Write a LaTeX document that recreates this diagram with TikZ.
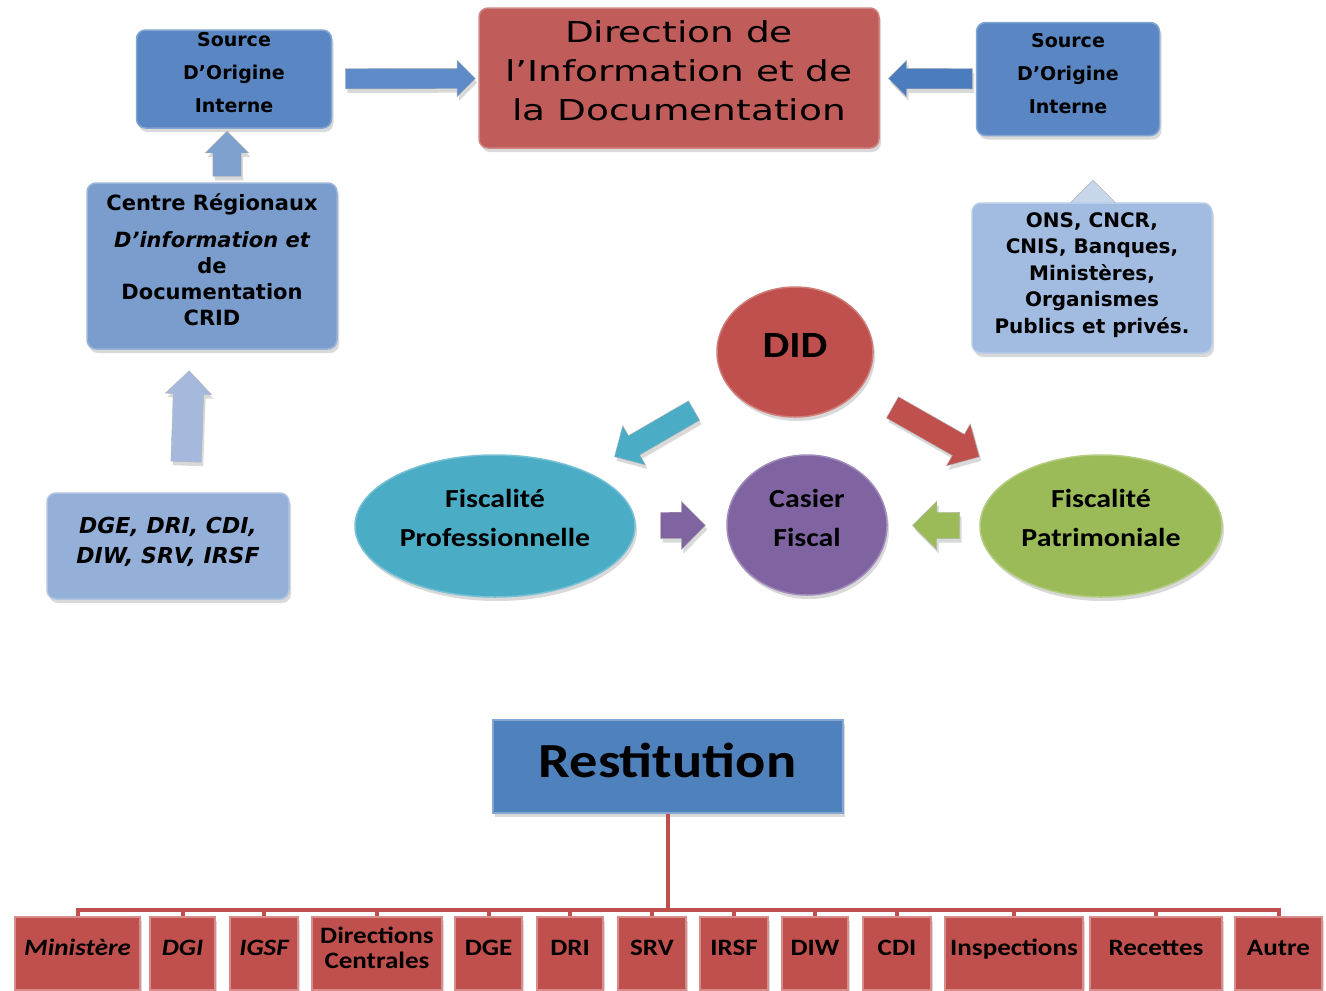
\documentclass[tikz,border=0pt]{standalone}
\usepackage{fontspec}
\usetikzlibrary{shapes.geometric,shapes.arrows,shadows,calc,backgrounds}
\newfontfamily\vfont{DejaVu Sans}
\newfontfamily\dirfont[FakeStretch=1.3]{DejaVu Sans}
\newfontfamily\cfont[FakeStretch=1.15]{Carlito}
\definecolor{srcblue}{RGB}{90,135,195}
\definecolor{dirred}{RGB}{192,92,90}
\definecolor{cridblue}{RGB}{122,157,205}
\definecolor{dgeblue}{RGB}{148,176,217}
\definecolor{onsblue}{RGB}{162,187,225}
\definecolor{arrA}{RGB}{95,140,200}
\definecolor{arrB}{RGB}{75,125,190}
\definecolor{arrC}{RGB}{125,160,205}
\definecolor{arrD}{RGB}{165,185,220}
\definecolor{arrE}{RGB}{200,214,235}
\definecolor{didred}{RGB}{192,80,77}
\definecolor{casierpurple}{RGB}{128,100,162}
\definecolor{fpteal}{RGB}{75,172,198}
\definecolor{patgreen}{RGB}{155,187,89}
\definecolor{restblue}{RGB}{79,129,189}
\definecolor{botred}{RGB}{192,80,77}
\begin{document}
\begin{tikzpicture}[x=1pt,y=-1pt,
  shadowed/.style={drop shadow={opacity=0.3,shadow xshift=2pt,shadow yshift=-4pt}},
  sbox/.style={rectangle, rounded corners=9pt, fill=#1, draw=#1!75!white, line width=1.5pt,
    inner sep=0pt, align=center, shadowed},
  sell/.style={ellipse, fill=#1, draw=#1!75!white, line width=1.5pt, inner sep=0pt,
    align=center, shadowed, font=\cfont\bfseries\fontsize{26}{39}\selectfont},
  botbox/.style={rectangle, fill=botred, draw=botred!65!white, line width=2pt, inner sep=0pt,
    minimum height=73, align=center, text depth=12pt, shadowed,
    font=\cfont\bfseries\fontsize{23.5}{25}\selectfont},
  barrow/.style n args={4}{single arrow, sloped, allow upside down, inner xsep=0pt,
    inner ysep=#4, minimum height=#1, minimum width=#2, single arrow head extend=#3,
    draw=white!70!black, line width=0.4pt, shadowed},
  busline/.style={draw=botred, line width=4pt}
]
\useasboundingbox (0,0) rectangle (1326,991);

% upper left / top boxes
\node[sbox=srcblue, minimum width=195, minimum height=98, text depth=13pt,
  font=\vfont\bfseries\fontsize{19}{33}\selectfont] (src1) at (234,79)
  {Source\\D’Origine\\Interne};
\node[sbox=dirred, minimum width=400, minimum height=140, text depth=14pt,
  font=\dirfont\fontsize{28.8}{39}\selectfont] (dir) at (679,78)
  {Direction de\\l’Information et de\\la Documentation};
\node[sbox=srcblue, minimum width=183, minimum height=113, text depth=12pt,
  font=\vfont\bfseries\fontsize{19}{33}\selectfont] (src2) at (1068,79)
  {Source\\D’Origine\\Interne};
\node[sbox=cridblue, minimum width=250, minimum height=166, text depth=13pt,
  font=\vfont\bfseries\fontsize{21}{26}\selectfont] (crid) at (212,266)
  {Centre Régionaux\\[11pt]\itshape D’information et\\de\\Documentation\\CRID};
\node[sbox=dgeblue, minimum width=242, minimum height=106, text depth=11pt,
  font=\vfont\bfseries\itshape\fontsize{22}{30}\selectfont] (dge) at (168,546)
  {DGE, DRI, CDI,\\DIW, SRV, IRSF};
\node[sbox=onsblue, minimum width=240, minimum height=150, text depth=10pt,
  font=\vfont\bfseries\fontsize{20}{26.5}\selectfont] (ons) at (1092,278)
  {ONS, CNCR,\\CNIS, Banques,\\Ministères,\\Organismes\\Publics et privés.};

% ellipses
\node[sell=didred, minimum width=156, minimum height=130, text depth=14pt,
  font=\cfont\bfseries\fontsize{37}{40}\selectfont] (did) at (795,352) {DID};
\node[sell=casierpurple, minimum width=160, minimum height=140, text depth=15pt] (casier) at (807,525)
  {Casier\\Fiscal};
\node[sell=fpteal, minimum width=280, minimum height=142, text depth=17pt] (fp) at (495,526)
  {Fiscalité\\Professionnelle};
\node[sell=patgreen, minimum width=242, minimum height=142, text depth=17pt] (fpat) at (1101,526)
  {Fiscalité\\Patrimoniale};

% block arrows: length, head width, head extend, half shaft width
\path (src1) -- node[barrow={130}{36}{8}{10}, fill=arrA] (a1) {} (dir);
\path (src2) -- node[pos=0.42, barrow={84}{36}{8}{10}, fill=arrB] (a2) {} (dir);
\path ($(src1.south |- crid.north)+(-7,0)$) -- node[pos=0.4, barrow={45}{43}{7.5}{14}, fill=arrC] (a3) {}
  ($(src1.south)+(-7,0)$);
\path ($(dge.north)+(17,0)$) -- node[pos=0.48, barrow={91}{46}{8}{15}, fill=arrD] (a4) {}
  ($(crid.south)+(-22,0)$);
\begin{scope}[on background layer]
\path ($(ons.north)+(1,30)$) -- node[pos=0.215, barrow={50}{45}{10}{12.5}, fill=arrE] (a5) {}
  ($(src2.south -| ons.north)+(1,0)$);
\end{scope}
\path (did) -- node[barrow={92}{45}{11.5}{11}, fill=fpteal] (a6) {} (fp);
\path (did) -- node[pos=0.46, barrow={100}{48}{12}{12}, fill=didred] (a7) {} (fpat);
\path (fp) -- node[pos=0.45, barrow={45}{48}{11}{13}, fill=casierpurple] (a8) {} (casier);
\path (fpat) -- node[pos=0.4, barrow={47}{48}{11}{13}, fill=patgreen] (a9) {} (casier);

% restitution
\node[rectangle, fill=restblue, draw=restblue!70!white, line width=2pt, inner sep=0pt,
  minimum width=350, minimum height=93, text depth=13pt, shadowed,
  font=\cfont\bfseries\fontsize{49}{50}\selectfont] (rest) at (667.5,766.5) {Restitution};

% bottom boxes
\node[botbox, minimum width=125, font=\cfont\bfseries\itshape\fontsize{23.5}{25}\selectfont] (b1) at (77.5,953.5) {Ministère};
\node[botbox, minimum width=65, font=\cfont\bfseries\itshape\fontsize{23.5}{25}\selectfont] (b2) at (182.5,953.5) {DGI};
\node[botbox, minimum width=68, font=\cfont\bfseries\itshape\fontsize{23.5}{25}\selectfont] (b3) at (264,953.5) {IGSF};
\node[botbox, minimum width=130] (b4) at (377,953.5) {Directions\\Centrales};
\node[botbox, minimum width=67] (b5) at (488.5,953.5) {DGE};
\node[botbox, minimum width=66] (b6) at (570,953.5) {DRI};
\node[botbox, minimum width=68] (b7) at (652,953.5) {SRV};
\node[botbox, minimum width=68] (b8) at (734,953.5) {IRSF};
\node[botbox, minimum width=66] (b9) at (815,953.5) {DIW};
\node[botbox, minimum width=68] (b10) at (897,953.5) {CDI};
\node[botbox, minimum width=138] (b11) at (1014,953.5) {Inspections};
\node[botbox, minimum width=132] (b12) at (1156,953.5) {Recettes};
\node[botbox, minimum width=87] (b13) at (1278.5,953.5) {Autre};

\coordinate (bus) at (667.5,910);
\draw[busline] (rest.south) -- (bus);
\draw[busline, line cap=rect] (b1.north |- bus) -- (b13.north |- bus);
\foreach \b in {b1,b2,b3,b4,b5,b6,b7,b8,b9,b10,b11,b12,b13}
  \draw[busline] (\b.north |- bus) -- (\b.north);
\end{tikzpicture}
\end{document}
